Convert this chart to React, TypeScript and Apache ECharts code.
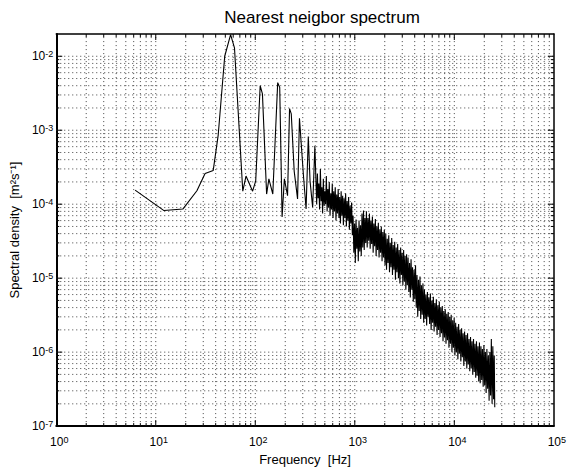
import React, { useEffect, useRef } from 'react';
import * as echarts from 'echarts';

// Low-frequency part (Hz, PSD)
const lowFreq = [6.2, 12.1, 18.7, 25.9, 31.3, 37.8, 42.4, 49.3, 56.5, 61.8, 74.9, 80.7, 94, 101, 112, 118, 130, 137, 150, 168, 176, 186, 196, 211, 221, 230, 246, 266, 278, 305, 324, 341, 355, 377, 397];
const lowPsd = [1.55e-4, 8.2e-5, 8.6e-5, 1.52e-4, 2.6e-4, 2.86e-4, 8.6e-4, 1.0e-2, 1.96e-2, 1.3e-2, 1.5e-4, 2.4e-4, 1.5e-4, 2.07e-4, 4.0e-3, 3.1e-3, 1.37e-4, 2.2e-4, 1.37e-4, 4.4e-3, 3.8e-3, 6.7e-5, 2.2e-4, 1.3e-4, 1.96e-3, 1.66e-3, 2.8e-4, 1.18e-4, 1.45e-3, 2.4e-4, 8.6e-5, 8.2e-4, 2.07e-4, 9.1e-5, 6.1e-4];

// Dense noisy band, read as [Hz, PSD] pairs, region by region
const bandA = [[414, 1.0e-4], [421, 2.6e-4], [428, 1.2e-4], [435, 1.9e-4], [443, 8.5e-5], [451, 3.0e-4], [459, 1.1e-4], [467, 1.7e-4], [475, 7.5e-5], [483, 2.2e-4], [492, 9.5e-5], [500, 1.5e-4], [509, 1.0e-4], [518, 2.4e-4], [527, 8.0e-5], [536, 1.6e-4], [545, 9e-5], [554, 2.0e-4], [564, 7e-5], [574, 1.4e-4], [584, 8.5e-5], [594, 1.9e-4], [604, 6.5e-5], [614, 1.5e-4], [625, 8e-5], [636, 1.7e-4], [647, 6e-5], [658, 1.35e-4], [670, 7.5e-5], [681, 1.6e-4], [693, 6.5e-5], [705, 1.25e-4], [717, 5.5e-5], [729, 1.5e-4], [742, 7e-5], [755, 1.3e-4], [768, 5.2e-5], [781, 1.2e-4], [795, 6.5e-5], [809, 1.4e-4], [823, 5.0e-5], [837, 1.1e-4], [852, 6e-5], [867, 1.25e-4], [882, 4.5e-5], [897, 9.5e-5], [913, 5.5e-5], [929, 1.05e-4], [945, 3.8e-5]];
const bandB = [[961, 7.0e-5], [978, 2.2e-5], [995, 5.5e-5], [1012, 1.6e-5], [1029, 6.2e-5], [1047, 2.5e-5], [1065, 4.8e-5], [1084, 1.7e-5], [1103, 6.0e-5], [1122, 2.3e-5], [1141, 5.2e-5], [1161, 2.0e-5], [1181, 7.5e-5], [1202, 2.6e-5], [1223, 8.2e-5], [1244, 2.4e-5], [1265, 6.5e-5], [1287, 3.0e-5]];
const bandC = [[1309, 8.0e-5], [1332, 2.6e-5], [1355, 6.5e-5], [1379, 3.2e-5], [1403, 7.5e-5], [1427, 2.5e-5], [1452, 6.0e-5], [1477, 2.9e-5], [1503, 6.8e-5], [1529, 2.2e-5], [1555, 5.5e-5], [1582, 2.7e-5], [1610, 6.3e-5], [1638, 2.0e-5], [1666, 5.0e-5], [1695, 2.4e-5], [1724, 5.6e-5], [1754, 1.9e-5], [1785, 4.6e-5], [1816, 2.2e-5], [1847, 5.0e-5], [1879, 1.7e-5], [1912, 4.2e-5], [1945, 1.9e-5], [1979, 4.5e-5], [2013, 1.5e-5]];
const bandD = [[2048, 4.0e-5], [2084, 1.3e-5], [2120, 3.4e-5], [2157, 1.6e-5], [2194, 3.8e-5], [2232, 1.2e-5], [2271, 3.0e-5], [2310, 1.4e-5], [2350, 3.5e-5], [2391, 1.1e-5], [2433, 2.8e-5], [2475, 1.3e-5], [2518, 3.1e-5], [2561, 9.5e-6], [2606, 2.6e-5], [2651, 1.2e-5], [2697, 2.9e-5], [2744, 1.0e-5], [2792, 2.4e-5], [2840, 8.5e-6], [2889, 2.6e-5], [2939, 1.1e-5], [2990, 2.2e-5], [3042, 8e-6], [3095, 2.4e-5], [3148, 9e-6], [3203, 2.0e-5], [3259, 7e-6], [3316, 2.1e-5], [3373, 8e-6]];
const bandE = [[3432, 1.9e-5], [3491, 6.5e-6], [3552, 1.6e-5], [3613, 5.5e-6], [3676, 1.8e-5], [3739, 7e-6], [3804, 1.4e-5], [3870, 4.8e-6], [3938, 1.3e-5], [4006, 5.2e-6], [4076, 1.5e-5], [4146, 4.0e-6], [4218, 1.1e-5], [4291, 3.0e-6], [4366, 9.5e-6], [4441, 3.6e-6], [4519, 1.05e-5], [4597, 2.8e-6], [4677, 8.0e-6], [4758, 3.2e-6], [4841, 8.5e-6], [4924, 2.5e-6]];
const bandF = [[5010, 7.0e-6], [5096, 2.8e-6], [5185, 6.0e-6], [5275, 2.3e-6], [5367, 6.5e-6], [5459, 3.0e-6], [5554, 5.5e-6], [5650, 2.4e-6], [5748, 6.2e-6], [5848, 2.0e-6], [5950, 5.0e-6], [6053, 2.5e-6], [6158, 5.6e-6], [6265, 1.9e-6], [6374, 4.6e-6], [6484, 2.2e-6], [6597, 5.2e-6], [6711, 1.7e-6], [6828, 4.3e-6], [6946, 2.0e-6], [7067, 4.8e-6], [7189, 1.6e-6], [7314, 4.0e-6], [7441, 1.8e-6], [7570, 4.2e-6], [7701, 1.4e-6], [7835, 3.6e-6], [7971, 1.6e-6], [8110, 3.8e-6], [8250, 1.3e-6], [8393, 3.3e-6], [8538, 1.45e-6], [8687, 3.5e-6], [8837, 1.15e-6], [8991, 3.0e-6], [9147, 1.3e-6], [9306, 3.2e-6], [9467, 1.0e-6], [9632, 2.7e-6], [9798, 1.15e-6], [9968, 2.9e-6]];
const bandG = [[10141, 9.0e-7], [10317, 2.5e-6], [10496, 1.0e-6], [10678, 2.2e-6], [10863, 8.0e-7], [11052, 2.4e-6], [11243, 9.5e-7], [11439, 2.0e-6], [11637, 7.5e-7], [11839, 2.1e-6], [12044, 8.5e-7], [12254, 1.8e-6], [12466, 6.5e-7], [12682, 1.9e-6], [12902, 7.5e-7], [13126, 1.7e-6], [13354, 6.0e-7], [13586, 1.8e-6], [13821, 6.8e-7], [14061, 1.5e-6], [14305, 5.5e-7], [14554, 1.6e-6], [14806, 6.0e-7], [15063, 1.4e-6], [15324, 5.0e-7], [15590, 1.5e-6], [15860, 5.4e-7], [16136, 1.3e-6], [16415, 4.5e-7], [16700, 1.4e-6], [16990, 4.8e-7], [17285, 1.2e-6], [17585, 4.0e-7], [17890, 1.35e-6]];
const bandH = [[18200, 3.8e-7], [18516, 1.2e-6], [18837, 4.2e-7], [19164, 1.1e-6], [19496, 3.4e-7], [19835, 1.25e-6], [20179, 3.6e-7], [20529, 1.0e-6], [20885, 2.8e-7], [21248, 1.1e-6], [21616, 3.2e-7], [21992, 9.0e-7], [22373, 2.2e-7], [22762, 1.0e-6], [23156, 2.6e-7], [23558, 1.5e-6], [23966, 2.0e-7], [24383, 1.2e-6], [24805, 2.3e-7], [25200, 9.0e-7], [25500, 1.8e-7]];

// Axis decades (tick labels) and minor grid multipliers
const xDecades = [1, 10, 100, 1000, 10000, 100000];
const yDecades = [1e-7, 1e-6, 1e-5, 1e-4, 1e-3, 1e-2];
const minorSteps = [2, 3, 4, 5, 6, 7, 8, 9];

const X_MIN = 1;
const X_MAX = 1e5;
const Y_MIN = 1e-7;
const Y_MAX = 0.02;

const FONT = '"Liberation Sans", Arial, Helvetica, sans-serif';

export default function App() {
  const ref = useRef<HTMLDivElement>(null);

  useEffect(() => {
    const chart = echarts.init(ref.current!, undefined, { renderer: 'svg' });

    const lineData: number[][] = [];
    lowFreq.forEach((f, i) => lineData.push([f, lowPsd[i]]));
    [bandA, bandB, bandC, bandD, bandE, bandF, bandG, bandH].forEach((arr) =>
      arr.forEach((p) => lineData.push([p[0], p[1]]))
    );

    // grid items: [x, y, kind(0 vertical / 1 horizontal), major]
    const gridData: number[][] = [];
    xDecades.forEach((d) => {
      if (d > X_MIN && d < X_MAX) gridData.push([d, Y_MIN, 0, 1]);
      minorSteps.forEach((m) => {
        const v = d * m;
        if (v > X_MIN && v < X_MAX) gridData.push([v, Y_MIN, 0, 0]);
      });
    });
    yDecades.forEach((d) => {
      if (d > Y_MIN && d < Y_MAX) gridData.push([X_MIN, d, 1, 1]);
      minorSteps.forEach((m) => {
        const v = d * m;
        if (v > Y_MIN && v < Y_MAX * 0.999) gridData.push([X_MIN, v, 1, 0]);
      });
    });

    const expFormatter = (val: number) => {
      const e = Math.log10(val);
      const r = Math.round(e);
      if (Math.abs(e - r) > 1e-6) return '';
      return `{b|10}{e|${r}}`;
    };

    const dotStyle = { stroke: '#444', lineWidth: 1, lineDash: [1, 3] };
    const tickStyle = { stroke: '#000', lineWidth: 1 };

    chart.setOption({
      animation: false,
      backgroundColor: '#fff',
      title: {
        text: 'Nearest neigbor spectrum',
        left: 317,
        textAlign: 'center',
        top: 4,
        textStyle: { fontFamily: FONT, fontSize: 17, fontWeight: 'normal', color: '#000' },
      },
      grid: { left: 52, right: 11, top: 34, bottom: 39, containLabel: false },
      xAxis: [
        {
          type: 'log',
          logBase: 10,
          min: X_MIN,
          max: X_MAX,
          splitNumber: 5,
          position: 'bottom',
          axisLine: { show: true, onZero: false, lineStyle: { color: '#000', width: 2 } },
          axisTick: { show: false },
          splitLine: { show: false },
          minorTick: { show: false },
          axisLabel: {
            formatter: expFormatter,
            margin: 9,
            color: '#000',
            rich: {
              b: { fontFamily: FONT, fontSize: 12, lineHeight: 14, color: '#000', padding: [0, 0, 0, 6] },
              e: { fontFamily: FONT, fontSize: 9, lineHeight: 9, verticalAlign: 'top', color: '#000' },
            },
          },
          name: 'Frequency  [Hz]',
          nameLocation: 'middle',
          nameGap: 25,
          nameTextStyle: { fontFamily: FONT, fontSize: 13, color: '#000' },
        },
        {
          type: 'log',
          logBase: 10,
          min: X_MIN,
          max: X_MAX,
          position: 'top',
          axisLine: { show: true, onZero: false, lineStyle: { color: '#000', width: 1.5 } },
          axisTick: { show: false },
          axisLabel: { show: false },
          splitLine: { show: false },
        },
      ],
      yAxis: [
        {
          type: 'log',
          logBase: 10,
          min: Y_MIN,
          max: Y_MAX,
          splitNumber: 6,
          position: 'left',
          axisLine: { show: true, onZero: false, lineStyle: { color: '#000', width: 2 } },
          axisTick: { show: false },
          splitLine: { show: false },
          minorTick: { show: false },
          axisLabel: {
            formatter: expFormatter,
            margin: 3,
            color: '#000',
            showMaxLabel: false,
            rich: {
              b: { fontFamily: FONT, fontSize: 12, lineHeight: 14, color: '#000' },
              e: { fontFamily: FONT, fontSize: 9, lineHeight: 9, verticalAlign: 'top', color: '#000' },
            },
          },
          name: 'Spectral density  [m²s⁻¹]',
          nameLocation: 'middle',
          nameGap: 25,
          nameTextStyle: { fontFamily: FONT, fontSize: 13, color: '#000' },
        },
        {
          type: 'log',
          logBase: 10,
          min: Y_MIN,
          max: Y_MAX,
          position: 'right',
          axisLine: { show: true, onZero: false, lineStyle: { color: '#000', width: 1.5 } },
          axisTick: { show: false },
          axisLabel: { show: false },
          splitLine: { show: false },
        },
      ],
      series: [
        {
          type: 'custom',
          xAxisIndex: 0,
          yAxisIndex: 0,
          silent: true,
          z: 1,
          data: gridData,
          renderItem: (params: any, api: any) => {
            const kind = api.value(2);
            const major = api.value(3);
            const tl = major ? 6 : 3;
            if (kind === 0) {
              const f = api.value(0);
              const p0 = api.coord([f, Y_MIN]);
              const p1 = api.coord([f, Y_MAX]);
              return {
                type: 'group',
                children: [
                  { type: 'line', shape: { x1: p0[0], y1: p0[1], x2: p1[0], y2: p1[1] }, style: dotStyle },
                  { type: 'line', shape: { x1: p0[0], y1: p0[1], x2: p0[0], y2: p0[1] - tl }, style: tickStyle },
                  { type: 'line', shape: { x1: p1[0], y1: p1[1], x2: p1[0], y2: p1[1] + tl }, style: tickStyle },
                ],
              };
            }
            const v = api.value(1);
            const q0 = api.coord([X_MIN, v]);
            const q1 = api.coord([X_MAX, v]);
            return {
              type: 'group',
              children: [
                { type: 'line', shape: { x1: q0[0], y1: q0[1], x2: q1[0], y2: q1[1] }, style: dotStyle },
                { type: 'line', shape: { x1: q0[0], y1: q0[1], x2: q0[0] + tl, y2: q0[1] }, style: tickStyle },
                { type: 'line', shape: { x1: q1[0], y1: q1[1], x2: q1[0] - tl, y2: q1[1] }, style: tickStyle },
              ],
            };
          },
        },
        {
          type: 'line',
          xAxisIndex: 0,
          yAxisIndex: 0,
          data: lineData,
          showSymbol: false,
          symbol: 'none',
          z: 3,
          lineStyle: { color: '#000', width: 1.1 },
        },
      ],
    });

    return () => chart.dispose();
  }, []);

  return <div ref={ref} style={{ position: 'absolute', left: 0, top: 0, width: 569, height: 471 }} />;
}
